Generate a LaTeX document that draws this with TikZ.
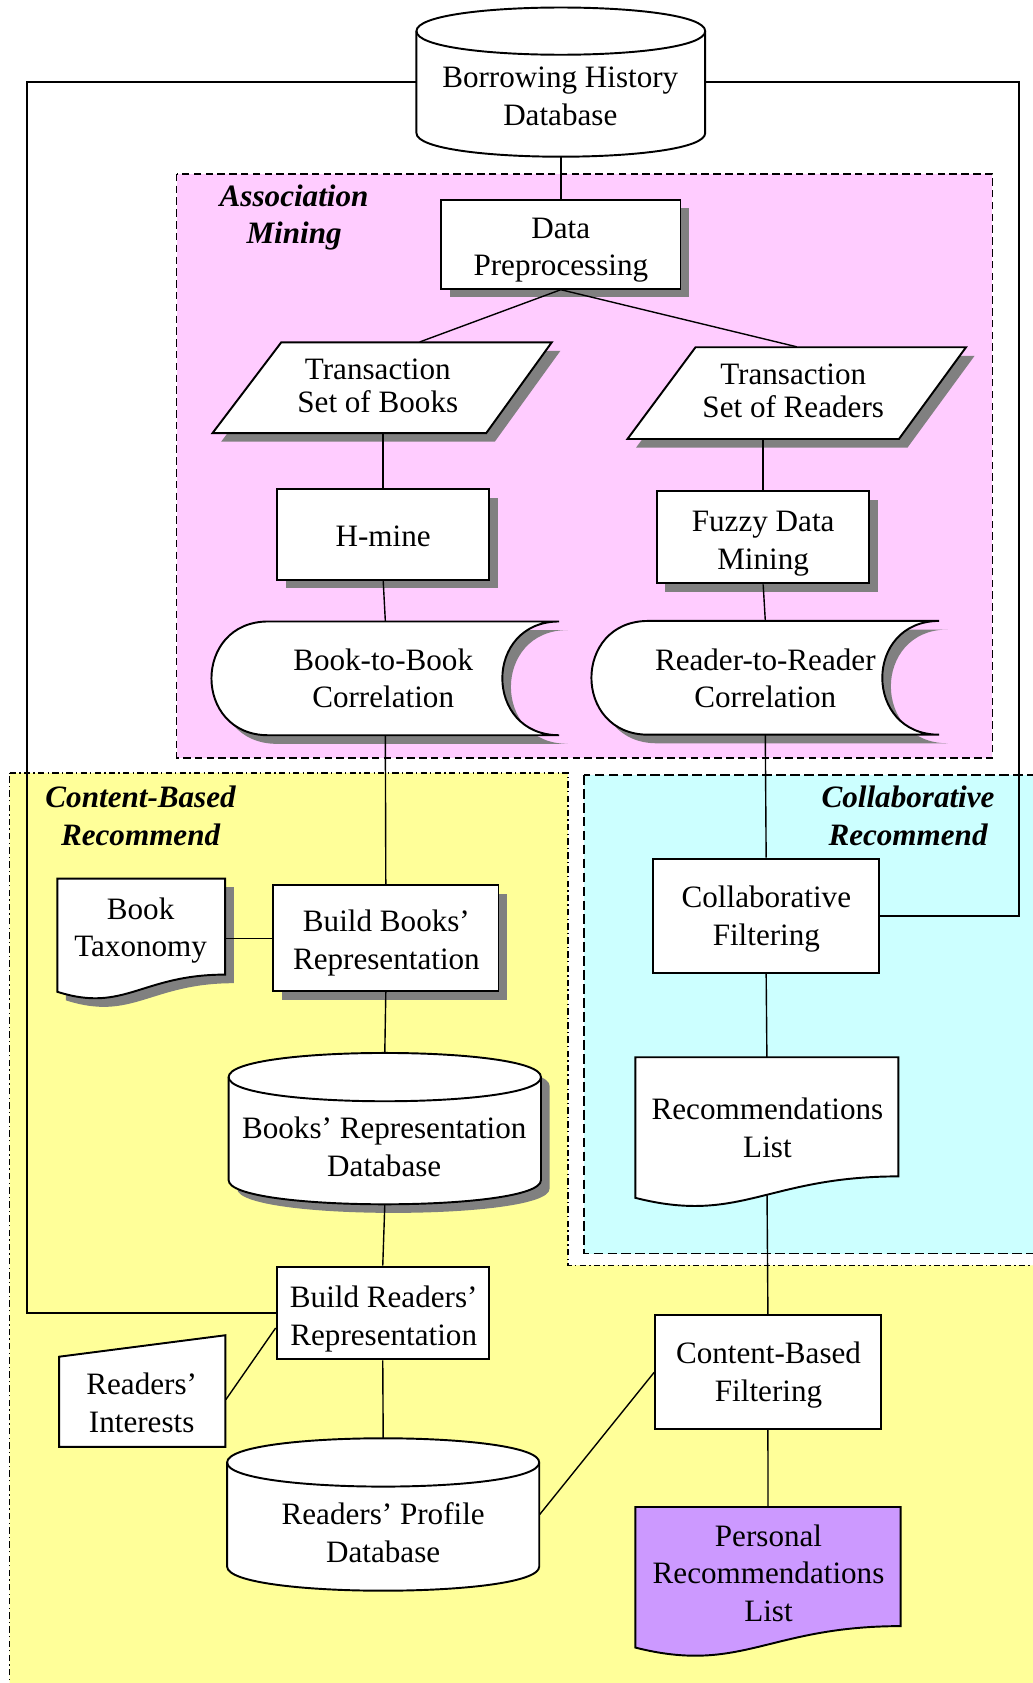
\documentclass[tikz,border=0pt]{standalone}
\usepackage{fontspec}
\setmainfont{Liberation Serif}
\usetikzlibrary{calc,shadows}
\pgfdeclarelayer{regions}
\pgfdeclarelayer{links}
\pgfsetlayers{regions,links,main}
\definecolor{pinkbg}{HTML}{FFCCFF}
\definecolor{yellowbg}{HTML}{FFFF99}
\definecolor{cyanbg}{HTML}{CCFFFF}
\definecolor{purplebg}{HTML}{CC99FF}
\definecolor{shadowc}{HTML}{808080}

% L R T B ry
\newcommand\cylpath[5]{({#1},{#3+#5}) -- ({#1},{#4-#5}) .. controls ({#1},{#4+#5/3}) and ({#2},{#4+#5/3}) .. ({#2},{#4-#5}) -- ({#2},{#3+#5}) .. controls ({#2},{#3-#5/3}) and ({#1},{#3-#5/3}) .. ({#1},{#3+#5}) -- cycle}
% L R T ry
\newcommand\cylfront[4]{\draw[line width=0.9pt] ({#1},{#3+#4}) .. controls ({#1},{#3+7*#4/3}) and ({#2},{#3+7*#4/3}) .. ({#2},{#3+#4});}
% L R T Br h
\newcommand\docpath[5]{({#1},{#3}) -- ({#2},{#3}) -- ({#2},{#4}) .. controls ({#2-0.5*(#2-#1)},{#4}) and ({#1+0.4*(#2-#1)},{#4+2.25*#5}) .. ({#1},{#4+#5}) -- cycle}
% L R T B c
\newcommand\sdpath[5]{({#1+#5},{#3}) -- ({#2},{#3}) .. controls ({#2-4*#5/3},{#3}) and ({#2-4*#5/3},{#4}) .. ({#2},{#4}) -- ({#1+#5},{#4}) .. controls ({#1+#5-4*#5/3},{#4}) and ({#1+#5-4*#5/3},{#3}) .. ({#1+#5},{#3}) -- cycle}
% style L T R B name
\newcommand\rbox[6]{\node[#1, minimum width={(#4-#2)*0.5pt}, minimum height={(#5-#3)*0.5pt}] (#6) at ({(#2+#4)/2},{(#3+#5)/2})}

\tikzset{
  txt/.style={font=\fontsize{14.5}{17.5}\selectfont, align=center, inner sep=0pt},
  tighttxt/.style={font=\fontsize{14.5}{15.2}\selectfont, align=center, inner sep=0pt},
  shapeline/.style={draw=black, line width=0.9pt, fill=white},
  shad/.style={drop shadow={shadow xshift=4pt, shadow yshift=-4pt, fill=shadowc, opacity=1}},
  box/.style={shapeline, rectangle, inner sep=0pt},
  anchorbox/.style={draw=none, fill=none, rectangle, inner sep=0pt},
  link/.style={draw=black, line width=0.65pt},
  grouplabel/.style={font=\fontsize{14.5}{17.5}\selectfont\bfseries\itshape, align=center, inner sep=0pt},
}

\begin{document}
\begin{tikzpicture}[x=0.5pt,y=-0.5pt]
\useasboundingbox (0,0) rectangle (962,1568);

% ---------- regions ----------
\begin{pgfonlayer}{regions}
\fill[white] (0,0) rectangle (962,1568);
\path[fill=yellowbg, draw=black, line width=0.7pt, dash pattern=on 3pt off 1.5pt on 0.6pt off 1.5pt]
  (9,720) -- (529,720) -- (529,1179) -- (985,1179) -- (985,1590) -- (9,1590) -- cycle;
\path[fill=cyanbg, draw=black, line width=0.7pt, dash pattern=on 4.5pt off 2pt]
  (544,722) rectangle (985,1168);
\path[fill=pinkbg, draw=black, line width=0.7pt, dash pattern=on 3.5pt off 2pt]
  (164.5,162) rectangle (924.5,706);
\end{pgfonlayer}

% ---------- shapes and nodes ----------
% Borrowing History Database
\path[shapeline] \cylpath{388}{657}{7}{146}{22};
\cylfront{388}{657}{7}{22}
\rbox{anchorbox}{388}{7}{657}{146}{bhd}{};
\node[txt] (bhdtext) at (522,90) {Borrowing History\\Database};

% Data Preprocessing
\rbox{box,shad}{411}{186}{634}{269}{dp}{};
\node[txt] (dptext) at (522.5,233) {Data\\Preprocessing};

% Transaction Set of Books
\path[shapeline,shad] (262,319) -- (514,319) -- (453,403.5) -- (198,403.5) -- cycle;
\rbox{anchorbox}{198}{319}{514}{403.5}{tsb}{};
\node[tighttxt] (tsbtext) at (352,359.5) {Transaction\\Set of Books};

% Transaction Set of Readers
\path[shapeline,shad] (648,323.5) -- (900,323.5) -- (837.5,409) -- (584.6,409) -- cycle;
\rbox{anchorbox}{584.6}{323.5}{900}{409}{tsr}{};
\node[tighttxt] (tsrtext) at (739,364) {Transaction\\Set of Readers};

% H-mine, Fuzzy Data Mining
\rbox{box,shad}{258}{456}{456}{540}{hmine}{};
\node[txt] (hminetext) at (357,500) {H-mine};
\rbox{box,shad}{612}{457.5}{810}{543.5}{fdm}{};
\node[txt] (fdmtext) at (711,506.5) {Fuzzy Data\\Mining};

% Correlations (stored data)
\path[shapeline,shad] \sdpath{197}{521}{579}{685}{53};
\rbox{anchorbox}{197}{579}{521}{685}{btb}{};
\node[txt] (btbtext) at (357,632) {Book-to-Book\\Correlation};

\path[shapeline,shad] \sdpath{551}{875}{578.5}{684.5}{53};
\rbox{anchorbox}{551}{578.5}{875}{684.5}{rtr}{};
\node[txt] (rtrtext) at (713,632) {Reader-to-Reader\\Correlation};

% group labels
\node[grouplabel] (assoclabel) at (274,202.5) {Association\\Mining};
\node[grouplabel] (cblabel) at (131,760) {Content-Based\\Recommend};
\node[grouplabel] (collabel) at (846,760) {Collaborative\\Recommend};

% Book Taxonomy
\path[shapeline,shad] \docpath{53.4}{209.8}{818.6}{908}{16};
\rbox{anchorbox}{53.4}{818.6}{209.8}{908}{bt}{};
\node[txt] (bttext) at (131,867) {Book\\Taxonomy};

% Build Books' Representation
\rbox{box,shad}{254.5}{824.8}{464.4}{923.5}{bbr}{};
\node[txt] (bbrtext) at (360,878.5) {Build Books’\\Representation};

% Books' Representation Database
\path[shapeline,shad] \cylpath{213}{504}{981}{1122}{22.5};
\cylfront{213}{504}{981}{22.5}
\rbox{anchorbox}{213}{981}{504}{1122}{brd}{};
\node[txt] (brdtext) at (358,1068.5) {Books’ Representation\\Database};

% Build Readers' Representation
\rbox{box}{257.7}{1180}{455.5}{1266.5}{brr}{};
\node[txt] (brrtext) at (357.5,1229) {Build Readers’\\Representation};

% Readers' Interests (manual input)
\path[shapeline] (55,1264) -- (210,1244) -- (210,1348) -- (55,1348) -- cycle;
\rbox{anchorbox}{55}{1244}{210}{1348}{ri}{};
\node[txt] (ritext) at (132,1307) {Readers’\\Interests};

% Readers' Profile Database
\path[shapeline] \cylpath{211.6}{502.4}{1340}{1482}{22.5};
\cylfront{211.6}{502.4}{1340}{22.5}
\rbox{anchorbox}{211.6}{1340}{502.4}{1482}{rpd}{};
\node[txt] (rpdtext) at (357,1428) {Readers’ Profile\\Database};

% Collaborative Filtering
\rbox{box}{608.6}{800}{819}{906.5}{cf}{};
\node[txt] (cftext) at (714,856) {Collaborative\\Filtering};

% Recommendations List
\path[shapeline] \docpath{592}{837}{985}{1096}{20};
\rbox{anchorbox}{592}{985}{837}{1096}{rl}{};
\node[txt] (rltext) at (715,1051) {Recommendations\\List};

% Content-Based Filtering
\rbox{box}{610.4}{1225.5}{820.5}{1331.5}{cbf}{};
\node[txt] (cbftext) at (716,1281) {Content-Based\\Filtering};

% Personal Recommendations List
\path[shapeline, fill=purplebg] \docpath{592}{839}{1404}{1515}{20};
\rbox{anchorbox}{592}{1404}{839}{1515}{prl}{};
\node[txt] (prltext) at (716,1465.5) {Personal\\Recommendations\\List};

% ---------- connectors ----------
\coordinate (lx) at (25,0);
\coordinate (rx) at (949.5,0);
\begin{pgfonlayer}{links}
\draw[link] (bhd.west) -- (bhd.west -| lx) -- (lx |- brr.west) -- (brr.west);
\draw[link] (bhd.east) -- (bhd.east -| rx) -- (rx |- cf.east) -- (cf.east);
\draw[link] (rl.south) -- (cbf.north);
\end{pgfonlayer}
\draw[link] (bhd.south) -- (dp.north);
\draw[link] (dp.south) -- ($(tsb.north)+(35,0)$);
\draw[link] (dp.south) -- (tsr.north);
\draw[link] (hmine.north) -- (hmine.north |- tsb.south);
\draw[link] (hmine.south) -- (btb.north);
\draw[link] (fdm.north) -- (fdm.north |- tsr.south);
\draw[link] (fdm.south) -- (rtr.north);
\draw[link] (btb.south) -- (bbr.north);
\draw[link] (rtr.south) -- (cf.north);
\draw[link] (bbr.west -| bt.east) -- (bbr.west);
\draw[link] (bbr.south) -- (brd.north);
\draw[link] (brd.south) -- (brr.north);
\draw[link] ($(ri.east)+(0,8)$) -- ($(brr.west)+(0,14)$);
\draw[link] (brr.south) -- (rpd.north);
\draw[link] (rpd.east) -- (cbf.west);
\draw[link] (cf.south) -- (rl.north);
\draw[link] (cbf.south) -- (prl.north);
\end{tikzpicture}
\end{document}
